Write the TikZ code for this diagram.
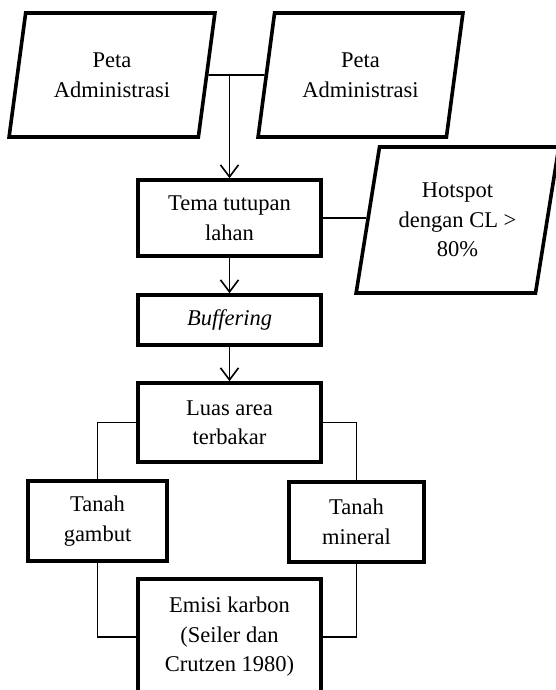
\documentclass[tikz,border=0pt]{standalone}
\usepackage{fontspec}
\setmainfont{Liberation Serif}
\usetikzlibrary{arrows.meta,shapes.geometric}

\begin{document}
\begin{tikzpicture}[
	x=1pt,y=-1pt,
	>={Straight Barb[length=12pt,width=18pt]},
	kotak/.style={draw,line width=3.6pt,minimum width=183pt,align=center,
		font=\fontsize{22.5}{29.5}\selectfont},
	jajar/.style={draw,line width=3.6pt,trapezium,trapezium left angle=77,
		trapezium right angle=103,trapezium stretches=true,align=center,
		font=\fontsize{22.5}{29.5}\selectfont},
	garis/.style={line width=1.6pt}
	]
	\useasboundingbox (0,0) rectangle (556,690);
	% input
	\node[jajar,minimum width=206pt,minimum height=124pt] (petaA) at (112,75) {Peta\\Administrasi};
	\node[jajar,minimum width=205pt,minimum height=124pt] (petaB) at (360.5,75) {Peta\\Administrasi};
	\node[jajar,minimum width=203pt,minimum height=146pt] (hotspot) at (457.5,220) {Hotspot\\dengan CL >\\80\%};
	% proses
	\node[kotak,minimum height=76pt] (tema) at (229.5,218) {Tema tutupan\\lahan};
	\node[kotak,minimum height=50pt] (buffer) at (229.5,320) {\textit{Buffering}};
	\node[kotak,minimum height=79pt] (luas) at (229.5,422.5) {Luas area\\terbakar};
	\node[kotak,minimum width=139pt,minimum height=80pt] (gambut) at (97.5,521) {Tanah\\gambut};
	\node[kotak,minimum width=135pt,minimum height=80pt] (mineral) at (356.5,522) {Tanah\\mineral};
	\node[kotak,minimum height=116pt] (emisi) at (229.5,637) {Emisi karbon\\(Seiler dan\\Crutzen 1980)};
	\coordinate (gabung) at (petaA.east -| tema.north);
	\begin{scope}[garis]
		\draw (petaA.east) -- (petaB.west);
		\draw[->] (gabung) -- (tema.north);
		\draw (tema.east) -- (tema.east -| hotspot.west);
		\draw[->] (tema.south) -- (buffer.north);
		\draw[->] (buffer.south) -- (luas.north);
		\draw (luas.west) -| (gambut.north);
		\draw (luas.east) -| (mineral.north);
		\draw (gambut.south) |- (emisi.west);
		\draw (mineral.south) |- (emisi.east);
	\end{scope}
\end{tikzpicture}
\end{document}
